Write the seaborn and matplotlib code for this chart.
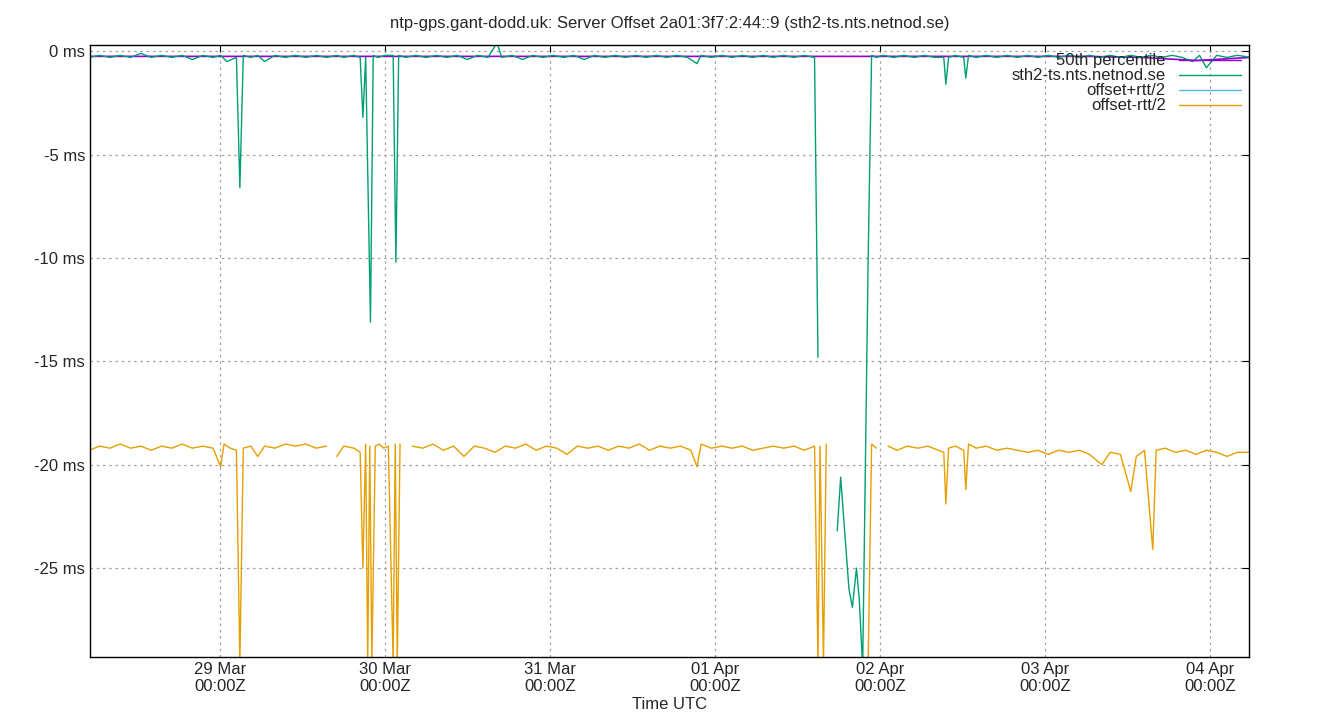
import numpy as np
import matplotlib
matplotlib.use("Agg")
import matplotlib.pyplot as plt
import seaborn as sns
import pandas as pd
from matplotlib.lines import Line2D

nan = float("nan")
# hours since 28 Mar 00:00Z
median_points = [(5, -0.25), (150, -0.25), (158, -0.3), (166, -0.45), (174, -0.3)]

offset_points = [
    (5, -0.3), (6.5, -0.2), (8, -0.3), (9.5, -0.2), (11, -0.3), (12.5, -0.1), (14, -0.3), (15.5, -0.2),
    (17, -0.3), (18.5, -0.2), (20, -0.4), (21.5, -0.2), (23, -0.3), (24.1, -0.2), (25, -0.5), (26.4, -0.3),
    (26.9, -6.6), (27.4, -0.2), (28.5, -0.3), (29.5, -0.2), (30.5, -0.5), (32, -0.2), (33.5, -0.3), (35, -0.2),
    (36.5, -0.3), (38, -0.2), (39.5, -0.3), (41, -0.2), (42, -0.3), (43.5, -0.2), (44.4, -0.3), (44.8, -3.2),
    (45.2, -0.3), (45.9, -13.1), (46.3, -0.2), (47, -0.3), (48, -0.2), (49.2, -0.2), (49.6, -10.2), (50.0, -0.2),
    (51, -0.3), (52.5, -0.2), (54, -0.3), (55.5, -0.2), (57, -0.3), (58.5, -0.2), (60, -0.4), (61.5, -0.2),
    (63, -0.3), (64.3, 0.4), (65, -0.3), (66.5, -0.2), (68, -0.4), (69.5, -0.2), (71, -0.3), (72.5, -0.2),
    (74, -0.3), (75.5, -0.2), (77, -0.4), (78.5, -0.2), (80, -0.3), (81.5, -0.2), (83, -0.3), (84.5, -0.2),
    (86, -0.3), (87.5, -0.2), (89, -0.3), (90.5, -0.2), (92, -0.3), (93.4, -0.6), (94, -0.2), (95.5, -0.3),
    (97, -0.2), (98.5, -0.3), (100, -0.2), (101.5, -0.3), (103, -0.2), (104.5, -0.3), (106, -0.2), (107.5, -0.3),
    (109, -0.2), (110.5, -0.3), (111.0, -14.8), (111.4, nan), (113.8, -23.2), (114.3, -20.6), (115.5, -26.0),
    (116.0, -26.9), (116.6, -25.0), (117.0, -26.5), (117.5, -29.8), (118.3, -10.0), (118.8, -0.2), (119.5, -0.3),
    (120.5, -0.2), (122, -0.3), (123.5, -0.2), (125, -0.3), (126.5, -0.2), (128, -0.3), (129.3, -0.3),
    (129.6, -1.6), (130.0, -0.3), (131, -0.2), (132.2, -0.3), (132.5, -1.3), (132.9, -0.2), (134, -0.3),
    (135.5, -0.2), (137, -0.3), (138.5, -0.2), (140, -0.3), (141.5, -0.2), (143, -0.3), (144.5, -0.2),
    (146, -0.3), (147.5, -0.2), (149, -0.3), (150.5, -0.2), (152, -0.3), (153.5, -0.2), (155, -0.3),
    (156.5, -0.2), (158, -0.3), (159.5, -0.2), (161, -0.3), (162.5, -0.2), (164, -0.3), (165.5, -0.5),
    (166.5, -0.2), (167.5, -0.8), (169, -0.2), (170.5, -0.3), (172, -0.2), (174, -0.3)]

lower_points = [
    (5, -19.3), (6.5, -19.1), (8, -19.2), (9.5, -19.0), (11, -19.2), (12.5, -19.1), (14, -19.3), (15.5, -19.1),
    (17, -19.2), (18.5, -19.0), (20, -19.2), (21.5, -19.1), (23, -19.2), (24.1, -20.1), (24.6, -19.0),
    (25.5, -19.2), (26.4, -19.3), (26.9, -29.6), (27.4, -19.2), (28.5, -19.1), (29.5, -19.6), (30.5, -19.1),
    (32, -19.2), (33.5, -19.0), (35, -19.1), (36.5, -19.0), (38, -19.2), (39.5, -19.1), (40.3, nan),
    (41, -19.6), (42, -19.1), (43.5, -19.2), (44.4, -19.4), (44.8, -25.0), (45.2, -19.0), (45.5, -29.6),
    (45.8, -19.1), (46.1, -29.6), (46.6, -19.1), (47.2, -19.0), (47.8, -19.2), (48.5, -19.1), (49.2, -29.6),
    (49.5, -19.0), (49.8, -29.6), (50.2, -19.0), (50.8, nan), (52, -19.1), (53.5, -19.2), (55, -19.0),
    (56.5, -19.3), (58, -19.1), (59.5, -19.6), (61, -19.1), (62.5, -19.2), (64, -19.4), (65.5, -19.1),
    (67, -19.2), (68.5, -19.0), (70, -19.3), (71.5, -19.1), (73, -19.2), (74.5, -19.5), (76, -19.1),
    (77.5, -19.2), (79, -19.1), (80.5, -19.3), (82, -19.1), (83.5, -19.2), (85, -19.0), (86.5, -19.3),
    (88, -19.1), (89.5, -19.2), (91, -19.1), (92.5, -19.3), (93.4, -20.1), (94, -19.0), (95.5, -19.2),
    (97, -19.1), (98.5, -19.2), (100, -19.1), (101.5, -19.3), (103, -19.2), (104.5, -19.1), (106, -19.2),
    (107.5, -19.1), (109, -19.3), (110.5, -19.1), (111.0, -29.6), (111.3, -19.1), (111.8, -29.6),
    (112.2, -19.0), (113, nan), (117.8, -29.6), (118.3, -29.6), (118.8, -19.0), (119.5, -19.2), (120.3, nan),
    (121.2, -19.1), (122.5, -19.3), (124, -19.1), (125.5, -19.2), (127, -19.1), (128.5, -19.3), (129.3, -19.4),
    (129.6, -21.9), (130.0, -19.2), (131, -19.1), (132.2, -19.3), (132.5, -21.2), (132.9, -19.0), (134, -19.2),
    (135.5, -19.1), (137, -19.3), (138.5, -19.2), (140, -19.3), (141.5, -19.4), (143, -19.3), (144.5, -19.5),
    (146, -19.3), (147.5, -19.4), (149, -19.3), (150.5, -19.5), (152.3, -20.0), (153.5, -19.4), (155, -19.5),
    (156.5, -21.3), (157.3, -19.6), (158.5, -19.3), (159.7, -24.1), (160.2, -19.3), (161.5, -19.2),
    (163, -19.4), (164.5, -19.3), (166, -19.5), (167.5, -19.3), (169, -19.4), (170.5, -19.6), (172, -19.4),
    (174, -19.4)]

upper_points = []

day_ticks = [24, 48, 72, 96, 120, 144, 168]
day_labels = ["29 Mar\n00:00Z", "30 Mar\n00:00Z", "31 Mar\n00:00Z", "01 Apr\n00:00Z",
              "02 Apr\n00:00Z", "03 Apr\n00:00Z", "04 Apr\n00:00Z"]
y_ticks = [0, -5, -10, -15, -20, -25]

sns.set_style("white")
plt.rcParams['font.family'] = ['Liberation Sans', 'DejaVu Sans']
plt.rcParams['font.size'] = 12

fig = plt.figure(figsize=(13.4, 7.2), dpi=100)
ax = fig.add_axes([90/1340, 63/720, 1159/1340, 612/720])

def draw(points, color, lw=1.0):
    df = pd.DataFrame(points, columns=["t", "v"])
    seg = df["v"].isna().cumsum()
    for _, g in df.groupby(seg):
        g = g.dropna()
        if len(g) > 0:
            sns.lineplot(data=g, x="t", y="v", ax=ax, color=color, lw=lw, sort=False, estimator=None)

C_MED, C_OFF, C_UP, C_LOW = "#9400d3", "#009e73", "#56b4e9", "#e69f00"
draw(median_points, C_MED, 1.2)
draw(offset_points, C_OFF)
draw(lower_points, C_LOW)

ax.set_xlim(5.1, 173.7)
ax.set_ylim(-29.3, 0.3)
ax.set_xticks(day_ticks)
ax.set_xticklabels(day_labels)
ax.set_yticks(y_ticks)
ax.set_yticklabels([f"{y} ms" for y in y_ticks])
ax.grid(True, color="#a0a0a0", linestyle=(0, (2, 3)), linewidth=0.9)
for s in ax.spines.values():
    s.set_color("black"); s.set_linewidth(1.0)
ax.tick_params(direction="in", length=5, color="black", labelsize=12, top=True, right=True)
ax.set_xlabel("Time UTC", fontsize=12, labelpad=2)
ax.set_ylabel("")
ax.set_title("ntp-gps.gant-dodd.uk: Server Offset 2a01:3f7:2:44::9 (sth2-ts.nts.netnod.se)", fontsize=12, pad=12)

handles = [Line2D([], [], color=c, lw=1) for c in (C_MED, C_OFF, C_UP, C_LOW)]
labels = ["50th percentile", "sth2-ts.nts.netnod.se", "offset+rtt/2", "offset-rtt/2"]
ax.legend(handles, labels, loc="upper right", frameon=False, markerfirst=False, fontsize=12,
          handlelength=3.7, labelspacing=0.0, borderaxespad=0.1, handletextpad=0.8)

fig.savefig("out.png", dpi=100)
